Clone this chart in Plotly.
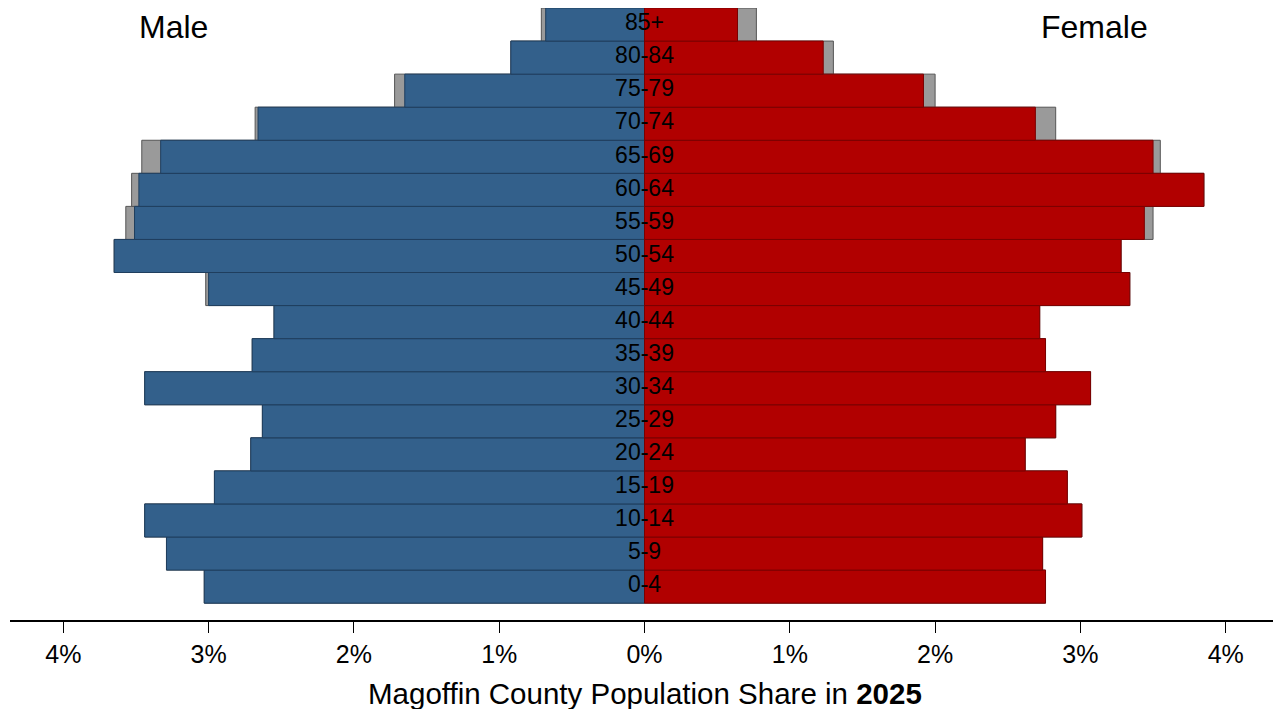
import plotly.graph_objects as go

ages = ["0-4", "5-9", "10-14", "15-19", "20-24", "25-29", "30-34", "35-39", "40-44",
        "45-49", "50-54", "55-59", "60-64", "65-69", "70-74", "75-79", "80-84", "85+"]

# 2025 shares (%)
male_2025 = [3.03, 3.29, 3.44, 2.96, 2.71, 2.63, 3.44, 2.70, 2.55,
             3.00, 3.65, 3.51, 3.48, 3.33, 2.66, 1.65, 0.92, 0.68]
female_2025 = [2.76, 2.74, 3.01, 2.91, 2.62, 2.83, 3.07, 2.76, 2.72,
               3.34, 3.28, 3.44, 3.85, 3.50, 2.69, 1.92, 1.23, 0.64]

# comparison shares (%) (grey bars behind)
male_prev = [3.03, 3.29, 3.44, 2.96, 2.71, 2.63, 3.44, 2.70, 2.55,
             3.02, 3.65, 3.57, 3.53, 3.46, 2.68, 1.72, 0.92, 0.71]
female_prev = [2.76, 2.74, 3.01, 2.91, 2.62, 2.83, 3.07, 2.76, 2.72,
               3.34, 3.28, 3.50, 3.85, 3.55, 2.83, 2.00, 1.30, 0.77]

tick_vals = [-4, -3, -2, -1, 0, 1, 2, 3, 4]
tick_text = ["4%", "3%", "2%", "1%", "0%", "1%", "2%", "3%", "4%"]

FONT = "Liberation Sans, Arial, sans-serif"
BLUE = "#33608b"
RED = "#b10000"
GREY = "#9a9a9a"

fig = go.Figure()

fig.add_trace(go.Bar(y=ages, x=[-v for v in male_prev], orientation="h", width=1,
                     marker=dict(color=GREY, line=dict(color="#555555", width=1)),
                     hoverinfo="skip", showlegend=False))
fig.add_trace(go.Bar(y=ages, x=female_prev, orientation="h", width=1,
                     marker=dict(color=GREY, line=dict(color="#555555", width=1)),
                     hoverinfo="skip", showlegend=False))
fig.add_trace(go.Bar(y=ages, x=[-v for v in male_2025], orientation="h", width=1,
                     marker=dict(color=BLUE, line=dict(color="#1f3e5e", width=1)),
                     name="Male", showlegend=False))
fig.add_trace(go.Bar(y=ages, x=female_2025, orientation="h", width=1,
                     marker=dict(color=RED, line=dict(color="#7a0000", width=1)),
                     name="Female", showlegend=False))

fig.add_trace(go.Scatter(y=ages, x=[0] * len(ages), mode="text", text=ages,
                         textposition="middle center",
                         textfont=dict(family=FONT, size=23, color="black"),
                         hoverinfo="skip", showlegend=False))

# page body has an 8px margin, so the figure is sized/placed to compensate
fig.update_layout(
    width=1273, height=701,
    margin=dict(l=2, r=3, t=0, b=89),
    barmode="overlay",
    paper_bgcolor="white", plot_bgcolor="white",
    font=dict(family=FONT, color="black"),
    xaxis=dict(range=[-4.367, 4.36], tickvals=tick_vals, ticktext=tick_text,
               ticks="outside", ticklen=11, tickwidth=1.2, tickcolor="black",
               showline=True, linecolor="black", linewidth=1.5,
               showgrid=False, zeroline=False,
               tickfont=dict(family=FONT, size=25, color="black"), fixedrange=True),
    yaxis=dict(range=[-1.01, 17.5], showticklabels=False, showgrid=False,
               zeroline=False, showline=False, ticks="", fixedrange=True),
    annotations=[
        dict(x=-3.245, y=(620 - 27) / 612, xref="x", yref="paper", text="Male",
             showarrow=False, font=dict(family=FONT, size=32, color="black"),
             xanchor="center", yanchor="middle"),
        dict(x=3.094, y=(620 - 27) / 612, xref="x", yref="paper", text="Female",
             showarrow=False, font=dict(family=FONT, size=32, color="black"),
             xanchor="center", yanchor="middle"),
        dict(x=0, y=(620 - 693) / 612, xref="x", yref="paper",
             text="Magoffin County Population Share in <b>2025</b>",
             showarrow=False, font=dict(family=FONT, size=29.5, color="black"),
             xanchor="center", yanchor="middle"),
    ],
)

fig.write_html("out.html")
